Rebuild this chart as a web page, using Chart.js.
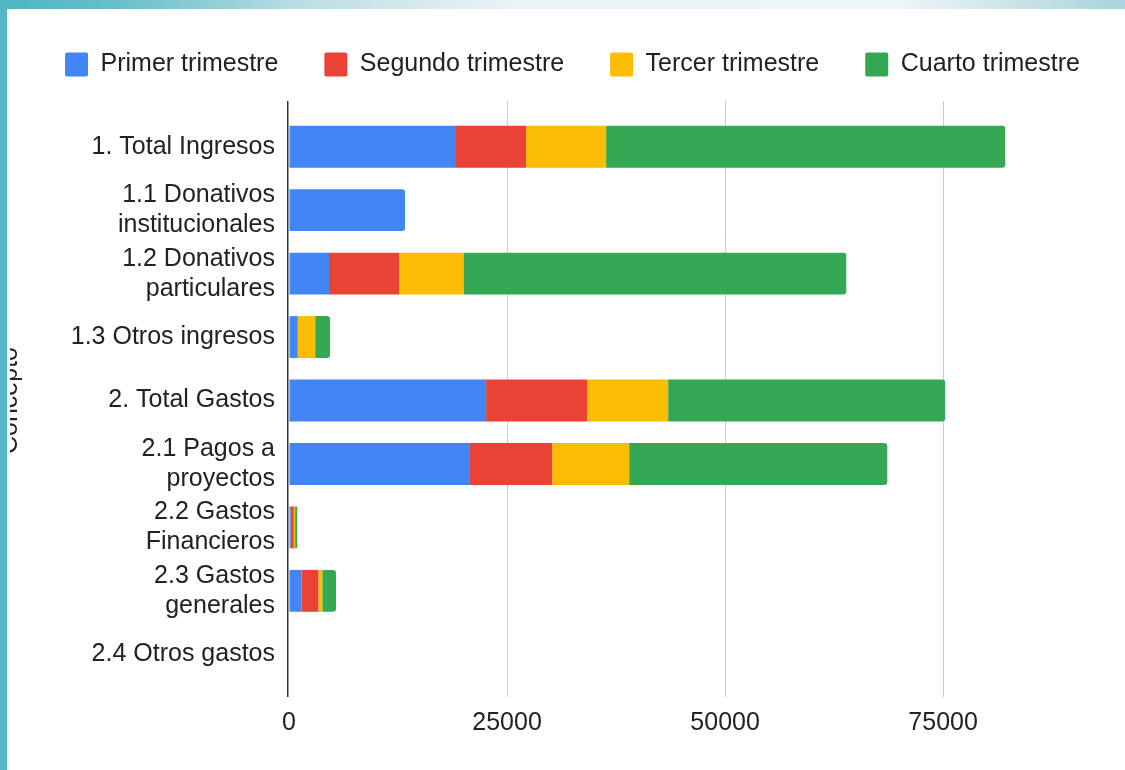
<!DOCTYPE html>
<html>
<head>
<meta charset="utf-8">
<script src="https://cdn.jsdelivr.net/npm/chart.js@4.4.0/dist/chart.umd.min.js"></script>
<style>
html, body { margin: 0; padding: 0; width: 1125px; height: 770px; overflow: hidden; background: #fff; }
#wrap { position: absolute; left: 10px; top: 0; width: 1125px; height: 770px; }
#edge-left { position: absolute; left: 0; top: 0; width: 7px; height: 770px; background: #53b7c6; z-index: 2; }
#edge-top { position: absolute; left: 0; top: 0; width: 1125px; height: 9px; z-index: 2;
  background: linear-gradient(to right, #50b5c4 0%, #66bec9 10%, #bcdee5 27%, #e9f3f5 45%, #eef5f6 80%, #a7d4dc 100%); }
</style>
</head>
<body>
<div id="edge-top"></div>
<div id="edge-left"></div>
<div id="wrap"><canvas id="bar-chart" width="1125" height="770"></canvas></div>
<script>
// categorias (eje vertical)
const conceptos = [
    "1. Total Ingresos",
    ["1.1 Donativos", "institucionales"],
    ["1.2 Donativos", "particulares"],
    "1.3 Otros ingresos",
    "2. Total Gastos",
    ["2.1 Pagos a", "proyectos"],
    ["2.2 Gastos", "Financieros"],
    ["2.3 Gastos", "generales"],
    "2.4 Otros gastos"
];

// valores por trimestre
const primerTrimestre  = [19040, 13300, 4590, 1000, 22600, 20650, 200, 1450, 0];
const segundoTrimestre = [8140, 0, 8030, 0, 11580, 9520, 350, 1910, 0];
const tercerTrimestre  = [9180, 0, 7380, 2000, 9290, 8830, 150, 460, 0];
const cuartoTrimestre  = [45770, 0, 43900, 1700, 31770, 29600, 250, 1570, 0];

const nombresSeries = ["Primer trimestre", "Segundo trimestre", "Tercer trimestre", "Cuarto trimestre"];
const coloresSeries = ["#4285F4", "#EA4335", "#FBBC04", "#34A853"];

// marcas del eje horizontal
const ticksX = [0, 25000, 50000, 75000];

Chart.defaults.font.family = '"Liberation Sans", Arial, sans-serif';
Chart.defaults.font.size = 25;
Chart.defaults.color = "#222";

// separa la leyenda del area del grafico
const legendMargin = {
    id: "legendMargin",
    beforeInit(chart) {
        const fit = chart.legend.fit;
        chart.legend.fit = function () {
            fit.bind(chart.legend)();
            this.height += 28;
        };
    }
};

// prolonga las lineas de la cuadricula y dibuja el eje cero encima de las barras
const gridExtend = {
    id: "gridExtend",
    afterDatasetsDraw(chart) {
        const { ctx, chartArea, scales: { x } } = chart;
        ctx.save();
        x.ticks.forEach(t => {
            const zero = t.value === 0;
            const w = zero ? 1.5 : 1;
            let px = x.getPixelForValue(t.value);
            px = Math.round(px - w / 2) + w / 2;
            ctx.strokeStyle = zero ? "#333" : "#ccc";
            ctx.lineWidth = w;
            ctx.beginPath();
            if (zero) {
                ctx.moveTo(px - 1, chartArea.top - 14);
                ctx.lineTo(px - 1, chartArea.bottom + 11);
            } else {
                ctx.moveTo(px, chartArea.top - 14);
                ctx.lineTo(px, chartArea.top);
                ctx.moveTo(px, chartArea.bottom);
                ctx.lineTo(px, chartArea.bottom + 11);
            }
            ctx.stroke();
        });
        ctx.restore();
    }
};

const series = [primerTrimestre, segundoTrimestre, tercerTrimestre, cuartoTrimestre];

new Chart(document.getElementById("bar-chart"), {
    type: "bar",
    data: {
        labels: conceptos,
        datasets: series.map((data, i) => ({
            label: nombresSeries[i],
            data: data,
            backgroundColor: coloresSeries[i],
            borderWidth: 0,
            borderRadius: 3,
            barPercentage: 0.66,
            categoryPercentage: 1
        }))
    },
    options: {
        indexAxis: "y",
        responsive: false,
        animation: false,
        layout: { padding: { top: 6, left: 0, right: 0, bottom: 10 } },
        scales: {
            x: {
                stacked: true,
                min: 0,
                max: 97000,
                afterBuildTicks: scale => {
                    scale.ticks = ticksX.map(v => ({ value: v }));
                },
                grid: {
                    drawTicks: false,
                    color: c => (c.tick && c.tick.value === 0) ? "rgba(0,0,0,0)" : "#ccc",
                    lineWidth: 1
                },
                border: { display: false },
                ticks: {
                    padding: 22,
                    color: "#222",
                    font: { size: 25 },
                    callback: value => String(value)
                }
            },
            y: {
                stacked: true,
                afterFit: scale => { scale.width = 279; },
                grid: { display: false, drawTicks: false },
                border: { display: false },
                ticks: { padding: 14, color: "#222", font: { size: 25 }, autoSkip: false },
                title: {
                    display: true,
                    text: "Concepto",
                    color: "#222",
                    font: { size: 25 },
                    padding: { top: -15, bottom: 0 }
                }
            }
        },
        plugins: {
            legend: {
                position: "top",
                labels: {
                    boxWidth: 23,
                    boxHeight: 24,
                    useBorderRadius: true,
                    borderRadius: 2,
                    padding: 46,
                    color: "#222",
                    font: { size: 25 }
                }
            },
            tooltip: { enabled: false }
        }
    },
    plugins: [legendMargin, gridExtend]
});
</script>
</body>
</html>
